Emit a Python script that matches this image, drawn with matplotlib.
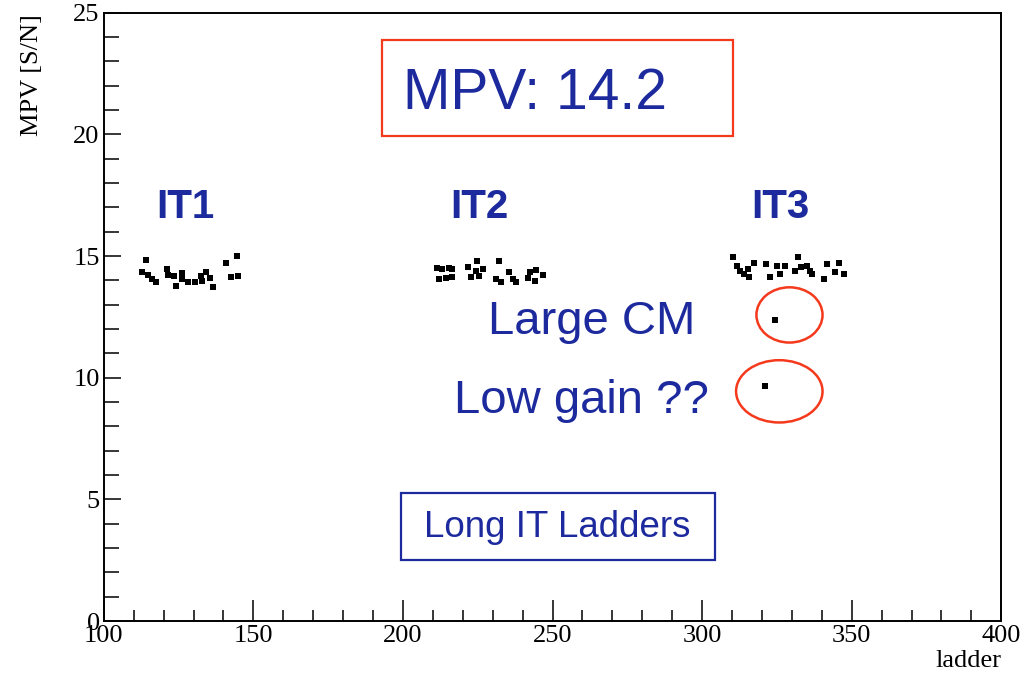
import matplotlib
matplotlib.use('Agg')
import matplotlib.pyplot as plt
from matplotlib.patches import Rectangle, Ellipse
from matplotlib.ticker import MultipleLocator

# MPV per ladder
it1_ladder = [114.1, 112.9, 114.7, 116.0, 117.4, 121.0, 121.6, 123.3, 124.1, 126.1, 126.1,
              128.2, 130.4, 132.4, 132.9, 134.3, 135.4, 136.6, 141.0, 142.5, 144.4, 145.0]
it1_mpv = [14.85, 14.34, 14.23, 14.06, 13.95, 14.47, 14.23, 14.20, 13.76, 14.31, 14.06,
           13.95, 13.93, 14.20, 13.99, 14.36, 14.09, 13.72, 14.72, 14.13, 15.02, 14.20]

it2_ladder = [211.5, 213.2, 215.4, 216.5, 212.1, 214.3, 216.5, 221.9, 224.9, 224.4, 226.6,
              222.7, 225.5, 232.0, 231.1, 232.8, 235.6, 236.7, 237.8, 242.3, 241.7, 244.5,
              244.0, 246.7]
it2_mpv = [14.50, 14.45, 14.50, 14.45, 14.06, 14.10, 14.15, 14.57, 14.79, 14.40, 14.47,
           14.13, 14.20, 14.79, 14.06, 13.93, 14.34, 14.06, 13.93, 14.34, 14.10, 14.43,
           13.99, 14.24]

it3_ladder = [310.4, 311.7, 312.8, 314.0, 315.3, 315.6, 317.3, 321.5, 322.7, 324.9, 327.6,
              326.0, 332.1, 331.0, 333.2, 335.1, 336.2, 336.8, 341.8, 340.7, 345.7, 344.4,
              347.4, 324.4, 321.0]
it3_mpv = [14.96, 14.61, 14.40, 14.27, 14.47, 14.13, 14.72, 14.68, 14.13, 14.61, 14.61,
           14.27, 14.96, 14.40, 14.54, 14.61, 14.40, 14.27, 14.68, 14.06, 14.72, 14.36,
           14.27, 12.37, 9.64]

blue = '#1c2a9e'
red = '#f5391c'

plt.rcParams['font.family'] = 'Liberation Serif'

fig = plt.figure(figsize=(10.28, 6.85), dpi=100)
ax = fig.add_axes([0.101, 0.0934, 0.873, 0.888])

for lad, mpv in [(it1_ladder, it1_mpv), (it2_ladder, it2_mpv), (it3_ladder, it3_mpv)]:
    ax.plot(lad, mpv, 's', color='black', markersize=4.8, markeredgewidth=0)

ax.set_xlim(100, 400)
ax.set_ylim(0, 25)
ax.xaxis.set_major_locator(MultipleLocator(50))
ax.xaxis.set_minor_locator(MultipleLocator(10))
ax.yaxis.set_major_locator(MultipleLocator(5))
ax.yaxis.set_minor_locator(MultipleLocator(1))
ax.tick_params(axis='x', which='major', direction='in', length=15, width=1.1, labelsize=19, pad=3)
ax.tick_params(axis='x', which='minor', direction='in', length=8, width=1.1)
ax.tick_params(axis='y', which='major', direction='in', length=12, width=1.1, labelsize=19, pad=3)
ax.tick_params(axis='y', which='minor', direction='in', length=11, width=1.1)
for s in ax.spines.values():
    s.set_linewidth(1.4)

ax.set_xlabel('ladder', fontsize=19, loc='right')
ax.xaxis.set_label_coords(1.0, -0.048)
ax.set_ylabel('MPV [S/N]', fontsize=19, loc='top')
ax.yaxis.set_label_coords(-0.068, 0.997)

sans = 'Liberation Sans'
ax.add_patch(Rectangle((193.0, 19.92), 117.4, 3.96, fill=False, edgecolor=red, linewidth=1.6))
ax.text(200, 21.65, 'MPV: 14.2', color=blue, fontsize=41, family=sans, va='center', ha='left')

for x, t in [(127.2, 'IT1'), (225.5, 'IT2'), (326.2, 'IT3')]:
    ax.text(x, 17.0, t, color=blue, fontsize=29, family=sans, fontweight='bold', ha='center', va='center')

ax.text(263.1, 12.3, 'Large CM', color=blue, fontsize=34, family=sans, ha='center', va='center')
ax.text(259.7, 9.05, 'Low gain ??', color=blue, fontsize=34, family=sans, ha='center', va='center')
ax.add_patch(Ellipse((329.2, 12.58), 22.1, 2.27, fill=False, edgecolor=red, linewidth=1.8))
ax.add_patch(Ellipse((325.8, 9.44), 28.9, 2.56, fill=False, edgecolor=red, linewidth=1.8))

ax.add_patch(Rectangle((199.3, 2.52), 105.1, 2.76, fill=False, edgecolor=blue, linewidth=1.6))
ax.text(251.7, 3.84, 'Long IT Ladders', color=blue, fontsize=26.5, family=sans, ha='center', va='center')

fig.savefig('out.png', dpi=100)
